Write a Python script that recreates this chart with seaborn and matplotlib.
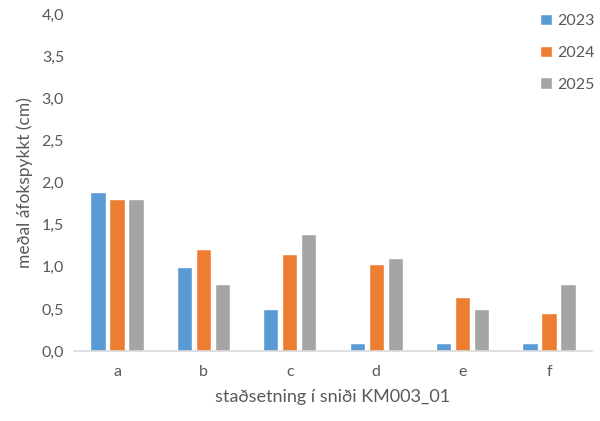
import numpy as np
import pandas as pd
import matplotlib
matplotlib.use("Agg")
import matplotlib.pyplot as plt
from matplotlib.ticker import FuncFormatter, MultipleLocator
import seaborn as sns

categories = ["a", "b", "c", "d", "e", "f"]
years = ["2023", "2024", "2025"]
v2023 = [1.89, 1.00, 0.50, 0.10, 0.10, 0.10]
v2024 = [1.81, 1.21, 1.15, 1.03, 0.64, 0.45]
v2025 = [1.80, 0.80, 1.39, 1.10, 0.50, 0.80]
colors = ["#5B9BD5", "#ED7D31", "#A5A5A5"]

sns.set_theme(style="white")
plt.rcParams["font.family"] = ["Lato", "DejaVu Sans"]
txt = "#595959"

df = pd.DataFrame({
    "cat": categories * 3,
    "year": np.repeat(years, len(categories)),
    "val": v2023 + v2024 + v2025,
})

fig = plt.figure(figsize=(6, 4.21), dpi=100)
ax = fig.add_axes([0.123, 0.166, 0.864, 0.801])
sns.barplot(data=df, x="cat", y="val", hue="year", palette=colors,
            width=0.66, gap=0.21, saturation=1, ax=ax)

ax.set_ylim(0, 4.0)
ax.set_xlim(-0.5, 5.5)
ax.yaxis.set_major_locator(MultipleLocator(0.5))
ax.yaxis.set_major_formatter(FuncFormatter(lambda v, p: f"{v:.1f}".replace(".", ",")))
ax.tick_params(axis="both", colors=txt, labelsize=11.5, length=0, pad=7)
ax.tick_params(axis="x", pad=10)
for s in ["top", "right", "left"]:
    ax.spines[s].set_visible(False)
ax.spines["bottom"].set_color("#D9D9D9")
ax.spines["bottom"].set_linewidth(1.2)
ax.set_xlabel("staðsetning í sniði KM003_01", color=txt, fontsize=13, labelpad=7)
ax.set_ylabel("meðal áfokspykkt (cm)", color=txt, fontsize=12.5, labelpad=6)

ax.legend(loc="upper left", bbox_to_anchor=(0.9, 1.0), frameon=False,
          fontsize=11.5, labelcolor=txt, handlelength=0.7, handleheight=0.7,
          handletextpad=0.35, labelspacing=1.1, borderpad=0, borderaxespad=0)

fig.savefig("out.png", dpi=100)
